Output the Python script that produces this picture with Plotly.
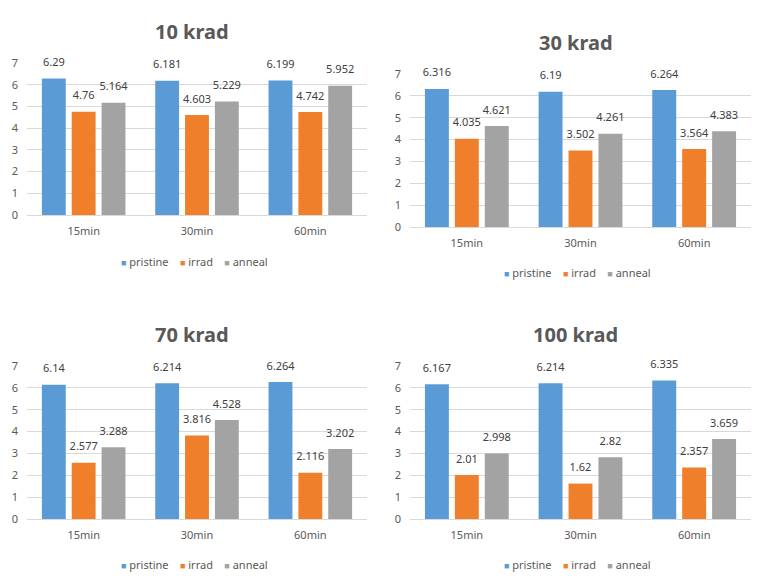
import plotly.graph_objects as go

categories = ["15min", "30min", "60min"]
series_names = ["pristine", "irrad", "anneal"]
titles = ["10 krad", "30 krad", "70 krad", "100 krad"]

pristine_10 = [6.29, 6.181, 6.199]
irrad_10 = [4.76, 4.603, 4.742]
anneal_10 = [5.164, 5.229, 5.952]

pristine_30 = [6.316, 6.19, 6.264]
irrad_30 = [4.035, 3.502, 3.564]
anneal_30 = [4.621, 4.261, 4.383]

pristine_70 = [6.14, 6.214, 6.264]
irrad_70 = [2.577, 3.816, 2.116]
anneal_70 = [3.288, 4.528, 3.202]

pristine_100 = [6.167, 6.214, 6.335]
irrad_100 = [2.01, 1.62, 2.357]
anneal_100 = [2.998, 2.82, 3.659]

y_ticks = [0, 1, 2, 3, 4, 5, 6, 7]

panels = [
    (pristine_10, irrad_10, anneal_10),
    (pristine_30, irrad_30, anneal_30),
    (pristine_70, irrad_70, anneal_70),
    (pristine_100, irrad_100, anneal_100),
]

colors = ["#5B9BD5", "#F07F2B", "#A3A3A3"]

OFF = 8  # default body margin of the page
W, H = 767 - 2 * OFF, 584 - 2 * OFF
# pixel layout in window coords (left, right, top(7), bottom(0)) per panel
boxes = [
    (27, 367, 63, 215),
    (410, 751, 74, 227),
    (27, 367, 366, 519),
    (410, 751, 366, 519),
]
title_y = [31, 42, 334, 334]
legend_y = [261, 272, 564, 564]

GAP = 0.21


def px_x(v):
    return (v - OFF) / W


def px_y(v):
    return 1 - (v - OFF) / H


fig = go.Figure()
layout = dict(
    width=W, height=H,
    margin=dict(l=0, r=0, t=0, b=0, autoexpand=False),
    paper_bgcolor="white", plot_bgcolor="white",
    barmode="group", bargap=GAP, bargroupgap=0.2,
    scattermode="group", scattergap=GAP,
    font=dict(family="Noto Sans, Open Sans, sans-serif", color="#595959", size=11),
    showlegend=False,
    annotations=[],
)

legend_text = "\u00a0\u00a0\u00a0\u00a0".join(
    f"<span style='color:{c};font-size:9px'>■</span>\u00a0{nm}"
    for c, nm in zip(colors, series_names)
)

for i, (vals, box) in enumerate(zip(panels, boxes)):
    n = i + 1
    xa = "x" if n == 1 else f"x{n}"
    ya = "y" if n == 1 else f"y{n}"
    for s, (name, v) in enumerate(zip(series_names, vals)):
        fig.add_trace(go.Bar(
            x=categories, y=v, name=name,
            marker=dict(color=colors[s], line=dict(width=0)),
            xaxis=xa, yaxis=ya,
        ))
    # data labels, grouped the same way as the bars
    for s, (name, v) in enumerate(zip(series_names, vals)):
        fig.add_trace(go.Scatter(
            x=categories, y=v, name=name, mode="markers+text",
            marker=dict(size=14, opacity=0, color=colors[s]),
            text=[str(t) for t in v], textposition="top center",
            textfont=dict(size=11, color="#404040"),
            cliponaxis=False, hoverinfo="skip",
            xaxis=xa, yaxis=ya,
        ))
    l, r, t, b = box
    xk = "xaxis" if n == 1 else f"xaxis{n}"
    yk = "yaxis" if n == 1 else f"yaxis{n}"
    layout[xk] = dict(
        domain=[px_x(l), px_x(r)], anchor=ya, automargin=False,
        showgrid=False, showline=True, linecolor="#D9D9D9", linewidth=1,
        ticks="", ticklabelstandoff=6, tickfont=dict(size=11, color="#595959"),
    )
    layout[yk] = dict(
        domain=[px_y(b), px_y(t)], anchor=xa, automargin=False,
        range=[0, 7], tickvals=y_ticks, showgrid=True, gridcolor="#D9D9D9",
        zeroline=False, showline=False, ticks="", ticklabelstandoff=8,
        tickfont=dict(size=11, color="#595959"),
    )
    center = (l + r) / 2
    layout["annotations"].append(dict(
        text=f"<b>{titles[i]}</b>", xref="paper", yref="paper",
        x=px_x(center - 5), y=px_y(title_y[i]), xanchor="center", yanchor="middle",
        showarrow=False, font=dict(size=20, color="#595959"),
    ))
    layout["annotations"].append(dict(
        text=legend_text, xref="paper", yref="paper",
        x=px_x(center - 3), y=px_y(legend_y[i]), xanchor="center", yanchor="middle",
        showarrow=False, font=dict(size=11, color="#595959"),
    ))

fig.update_layout(**layout)
fig.write_html("out.html")
